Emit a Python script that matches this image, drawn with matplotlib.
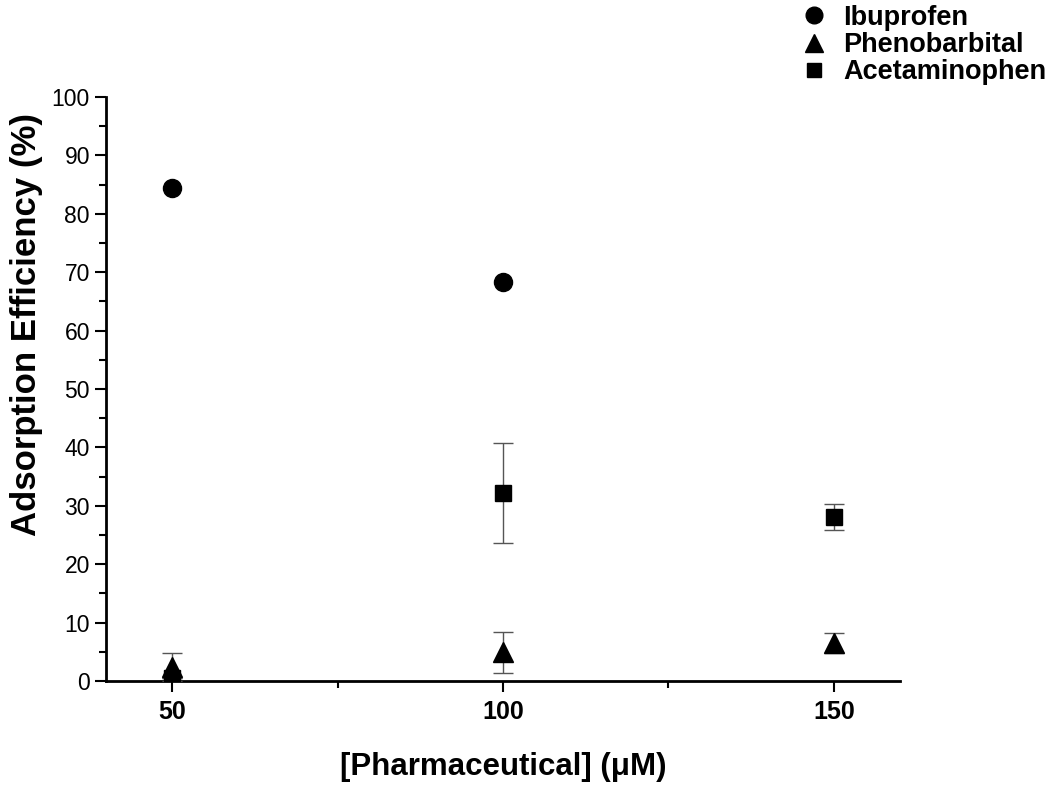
import numpy as np
from matplotlib import pyplot as plt
from matplotlib.ticker import MultipleLocator
from matplotlib.lines import Line2D

plt.rcParams['font.family'] = ['Liberation Sans', 'DejaVu Sans']

# Data
conc = [50, 100, 150]
ibu = [84.5, 68.4]
ibu_conc = [50, 100]
pheno = [2.4, 4.9, 6.5]
pheno_err = [2.4, 3.5, 1.7]
acet = [0.5, 32.2, 28.1]
acet_err = [0.0, 8.5, 2.2]
names = ['Ibuprofen', 'Phenobarbital', 'Acetaminophen']

fig = plt.figure(figsize=(10.59, 7.87), dpi=100)
ax = fig.add_axes([0.100, 0.1347, 0.750, 0.742])

ax.plot(ibu_conc, ibu, 'o', color='black', ms=13, zorder=3)
ax.errorbar(conc, pheno, yerr=pheno_err, fmt='^', color='black', ms=15,
            ecolor='#555555', elinewidth=1, capsize=7, capthick=1, zorder=3)
ax.errorbar(conc, acet, yerr=acet_err, fmt='s', color='black', ms=11,
            ecolor='#555555', elinewidth=1, capsize=7, capthick=1, zorder=3)

ax.set_xlim(40, 160)
ax.set_ylim(0, 100)
ax.set_xticks(conc)
ax.xaxis.set_minor_locator(MultipleLocator(25))
ax.yaxis.set_major_locator(MultipleLocator(10))
ax.yaxis.set_minor_locator(MultipleLocator(5))

for s in ['top', 'right']:
    ax.spines[s].set_visible(False)
for s in ['left', 'bottom']:
    ax.spines[s].set_linewidth(2)

ax.tick_params(axis='both', which='major', direction='out', length=8, width=1.5)
ax.tick_params(axis='both', which='minor', direction='out', length=5, width=1.5)
ax.tick_params(axis='y', labelsize=16.5)
ax.tick_params(axis='x', labelsize=18, pad=6)
for lab in ax.get_xticklabels():
    lab.set_fontweight('bold')

ax.set_xlabel('[Pharmaceutical] (μM)', fontsize=22.5, fontweight='bold', labelpad=20)
ax.set_ylabel('Adsorption Efficiency (%)', fontsize=25, fontweight='bold')
ax.yaxis.set_label_coords(-0.079, 0.61)

handles = [Line2D([], [], ls='none', marker='o', color='black', ms=12),
           Line2D([], [], ls='none', marker='^', color='black', ms=13),
           Line2D([], [], ls='none', marker='s', color='black', ms=10)]
fig.legend(handles, names, loc='upper left', bbox_to_anchor=(0.730, 1.025),
           frameon=False, prop={'size': 19.5, 'weight': 'bold'},
           handletextpad=0.5, labelspacing=0.05, handlelength=1.2)

plt.savefig('out.png', dpi=100)
